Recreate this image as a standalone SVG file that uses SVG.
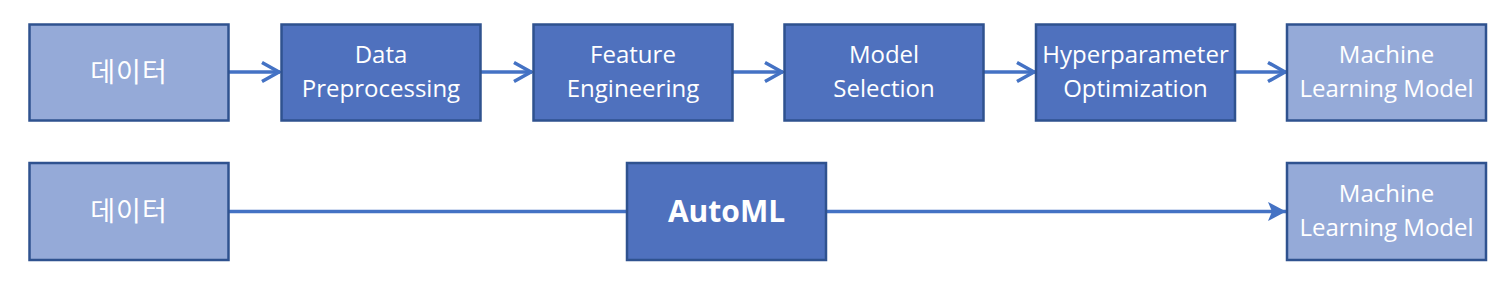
<svg xmlns="http://www.w3.org/2000/svg" width="1506" height="288" viewBox="0 0 1506 288">
<style>
.dark{fill:#4F71BE;stroke:#2F528F;stroke-width:2.5}
.light{fill:#95AAD8;stroke:#2F528F;stroke-width:2.5}
.t{font-family:"Open Sans","Noto Sans",sans-serif;font-size:24px;fill:#fff;text-anchor:middle}
.k{font-family:"Noto Sans CJK KR",sans-serif;font-size:27px;fill:#fff;text-anchor:middle}
.b{font-family:"Open Sans","Noto Sans",sans-serif;font-size:30px;font-weight:bold;fill:#fff;text-anchor:middle}
.c{stroke:#4472C4;stroke-width:3.5;fill:none}
</style>
<defs>
<marker id="open" markerUnits="userSpaceOnUse" markerWidth="24" markerHeight="24" refX="20" refY="12" orient="auto">
<polyline points="2,2.5 19,12 2,21.5" fill="none" stroke="#4472C4" stroke-width="3.5"/>
</marker>
<marker id="stealth" markerUnits="userSpaceOnUse" markerWidth="24" markerHeight="24" refX="20" refY="12" orient="auto">
<path d="M2,2.5 L20,12 L2,21.5 L6,12 Z" fill="#4472C4"/>
</marker>
</defs>
<g id="connectors">
<line class="c" x1="229" y1="72" x2="280" y2="72" marker-end="url(#open)"/>
<line class="c" x1="481" y1="72" x2="532" y2="72" marker-end="url(#open)"/>
<line class="c" x1="733" y1="72" x2="783" y2="72" marker-end="url(#open)"/>
<line class="c" x1="984" y1="72" x2="1035" y2="72" marker-end="url(#open)"/>
<line class="c" x1="1236" y1="72" x2="1286" y2="72" marker-end="url(#open)"/>
<line class="c" x1="229" y1="211.5" x2="627" y2="211.5"/>
<line class="c" x1="827" y1="211.5" x2="1286" y2="211.5" marker-end="url(#stealth)"/>
</g>
<g id="data1">
<rect class="light" x="29.5" y="24.5" width="199" height="96"/>
<text class="k" x="129" y="82" letter-spacing="1">데이터</text>
</g>
<g id="preprocessing">
<rect class="dark" x="281.5" y="24.5" width="199" height="96"/>
<text class="t" x="381" y="63">Data</text>
<text class="t" x="381" y="97">Preprocessing</text>
</g>
<g id="feature">
<rect class="dark" x="533.5" y="24.5" width="199" height="96"/>
<text class="t" x="633" y="63">Feature</text>
<text class="t" x="633" y="97">Engineering</text>
</g>
<g id="model">
<rect class="dark" x="784.5" y="24.5" width="199" height="96"/>
<text class="t" x="884" y="63">Model</text>
<text class="t" x="884" y="97">Selection</text>
</g>
<g id="hyper">
<rect class="dark" x="1036" y="24.5" width="199" height="96"/>
<text class="t" x="1135.5" y="63">Hyperparameter</text>
<text class="t" x="1135.5" y="97">Optimization</text>
</g>
<g id="ml1">
<rect class="light" x="1287" y="24.5" width="199" height="96"/>
<text class="t" x="1386.5" y="63">Machine</text>
<text class="t" x="1386.5" y="97">Learning Model</text>
</g>
<g id="data2">
<rect class="light" x="29.5" y="163" width="199" height="97"/>
<text class="k" x="129" y="221" letter-spacing="1">데이터</text>
</g>
<g id="automl">
<rect class="dark" x="627" y="163" width="199" height="97"/>
<text class="b" x="726.5" y="222">AutoML</text>
</g>
<g id="ml2">
<rect class="light" x="1287" y="163" width="199" height="97"/>
<text class="t" x="1386.5" y="202">Machine</text>
<text class="t" x="1386.5" y="236">Learning Model</text>
</g>
</svg>
